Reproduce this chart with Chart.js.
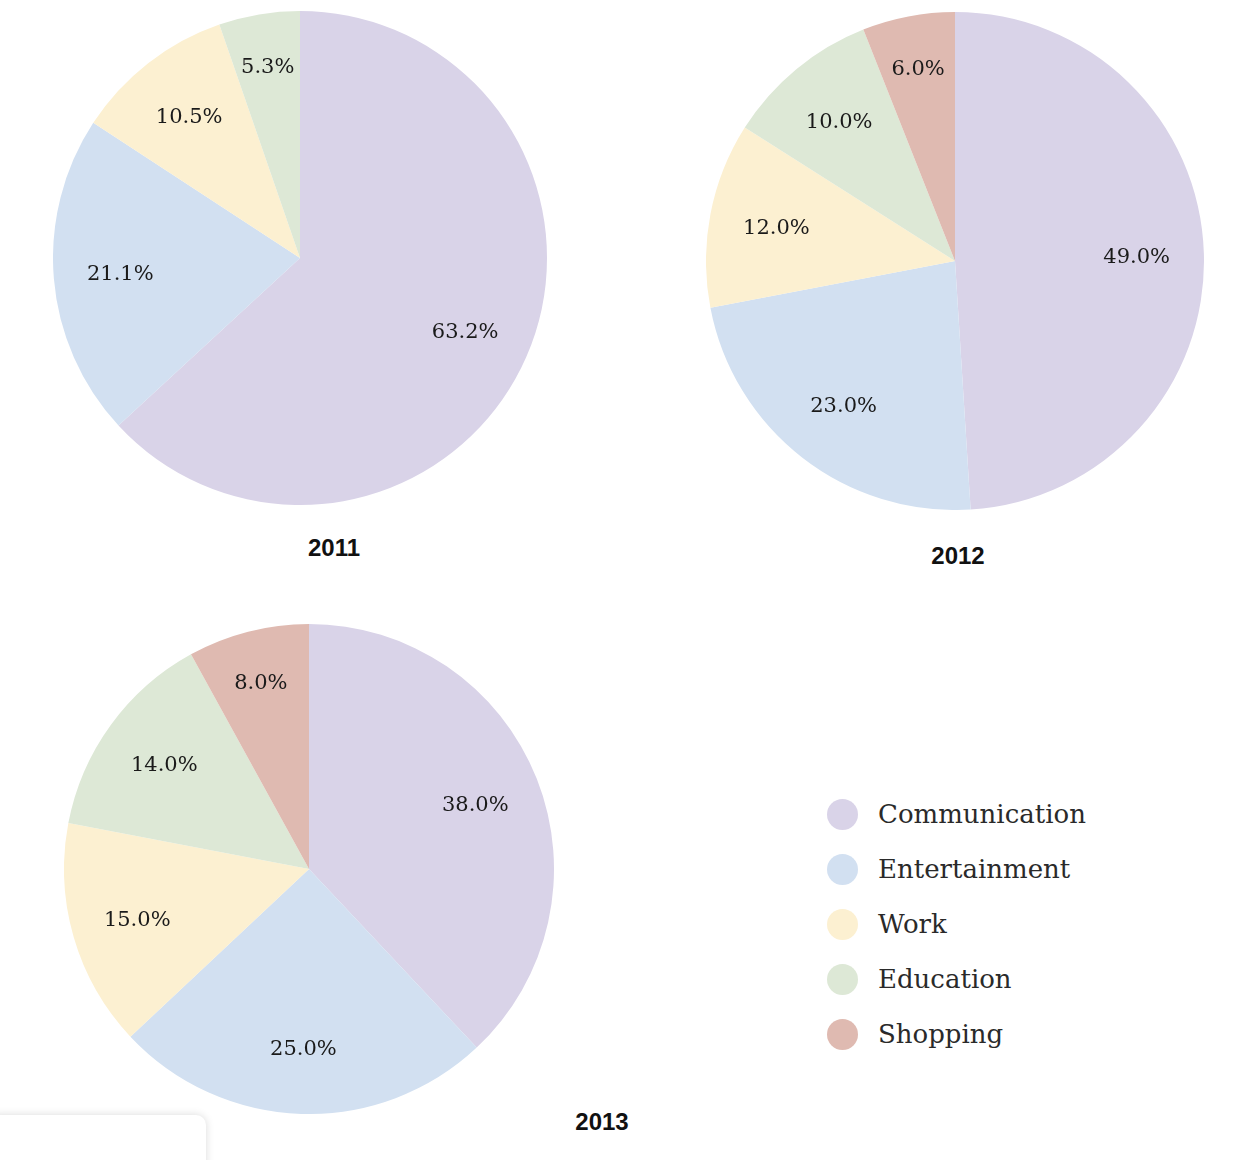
<!DOCTYPE html>
<html>
<head>
<meta charset="utf-8">
<script src="https://cdn.jsdelivr.net/npm/chart.js@4.4.1/dist/chart.umd.min.js"></script>
<style>
  html, body { margin: 0; padding: 0; background: #fff; }
  body { width: 1234px; height: 1160px; position: relative; overflow: hidden; }
  .pie { position: absolute; }
  .year { position: absolute; font-family: "Liberation Sans", Arial, sans-serif; font-weight: bold; font-size: 24px; color: #111; transform: translateX(-50%); }
  #legend { position: absolute; left: 827px; top: 796px; font-family: "DejaVu Serif", Georgia, serif; font-size: 26px; color: #2a2a2a; }
  #legend .item { height: 55px; display: flex; align-items: flex-start; }
  #legend .item span:last-child { padding-top: 3px; }
  #legend .dot { width: 31px; height: 31px; border-radius: 50%; margin-right: 20px; margin-top: 3px; }
  .note { position: absolute; left: -12px; top: 1115px; width: 218px; height: 80px; background: #fff; border-radius: 10px; box-shadow: 0 0 8px rgba(0,0,0,0.15); }
</style>
</head>
<body>
<canvas id="pie2011" class="pie" width="494" height="494" style="left:53px;top:11px"></canvas>
<canvas id="pie2012" class="pie" width="498" height="498" style="left:706px;top:12px"></canvas>
<canvas id="pie2013" class="pie" width="490" height="490" style="left:64px;top:624px"></canvas>
<div class="year" style="left:334px;top:534px">2011</div>
<div class="year" style="left:958px;top:542px">2012</div>
<div class="year" style="left:602px;top:1108px">2013</div>
<div id="legend"></div>
<div class="note"></div>
<script>
  // categories and colours
  const categories = ["Communication", "Entertainment", "Work", "Education", "Shopping"];
  const colors = ["#d9d3e8", "#d2e0f1", "#fcf0d1", "#dde8d6", "#dfbab1"];

  // shares per year (%)
  const values2011 = [63.2, 21.1, 10.5, 5.3, 0];
  const values2012 = [49.0, 23.0, 12.0, 10.0, 6.0];
  const values2013 = [38.0, 25.0, 15.0, 14.0, 8.0];

  // draw the percentage inside each slice
  const sliceLabels = {
    id: 'sliceLabels',
    afterDatasetsDraw(chart) {
      const ctx = chart.ctx;
      const meta = chart.getDatasetMeta(0);
      const data = chart.data.datasets[0].data;
      ctx.save();
      ctx.font = '21px "DejaVu Serif", Georgia, serif';
      ctx.fillStyle = '#1a1a1a';
      ctx.textAlign = 'center';
      ctx.textBaseline = 'middle';
      meta.data.forEach((arc, i) => {
        if (!data[i]) return;
        const mid = (arc.startAngle + arc.endAngle) / 2;
        const f = data[i] < 9 ? 0.79 : 0.73;
        const r = arc.outerRadius * f;
        const x = arc.x + Math.cos(mid) * r;
        const y = arc.y + Math.sin(mid) * r + 2;
        ctx.fillText(data[i].toFixed(1) + '%', x, y);
      });
      ctx.restore();
    }
  };

  function makePie(id, values) {
    return new Chart(document.getElementById(id), {
      type: 'pie',
      data: {
        labels: categories,
        datasets: [{
          data: values,
          backgroundColor: colors,
          borderWidth: 0
        }]
      },
      options: {
        responsive: false,
        animation: false,
        layout: { padding: 0 },
        plugins: {
          legend: { display: false },
          tooltip: { enabled: false }
        }
      },
      plugins: [sliceLabels]
    });
  }

  makePie('pie2011', values2011);
  makePie('pie2012', values2012);
  makePie('pie2013', values2013);

  // legend
  const legend = document.getElementById('legend');
  categories.forEach((name, i) => {
    const item = document.createElement('div');
    item.className = 'item';
    item.innerHTML = '<span class="dot" style="background:' + colors[i] + '"></span><span>' + name + '</span>';
    legend.appendChild(item);
  });
</script>
</body>
</html>
